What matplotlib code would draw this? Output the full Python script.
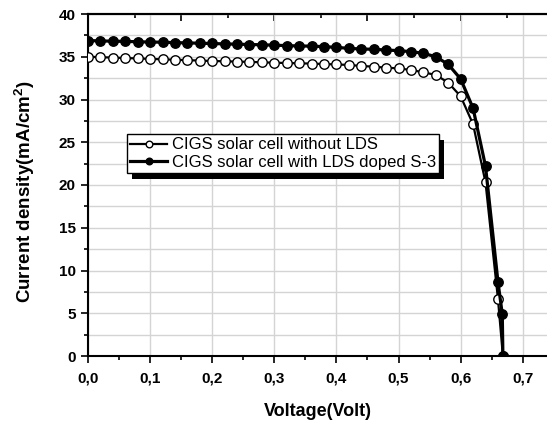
import matplotlib
matplotlib.use("Agg")
import matplotlib.pyplot as plt
from matplotlib.ticker import MultipleLocator, FuncFormatter, FixedLocator
from matplotlib.patches import Rectangle
from matplotlib.transforms import IdentityTransform

plt.rcParams['font.family'] = ['Liberation Sans', 'DejaVu Sans']
plt.rcParams['mathtext.fontset'] = 'custom'
plt.rcParams['mathtext.rm'] = 'Liberation Sans:bold'
plt.rcParams['mathtext.bf'] = 'Liberation Sans:bold'
plt.rcParams['mathtext.default'] = 'rm'

voltage = [0.00, 0.02, 0.04, 0.06, 0.08, 0.10, 0.12, 0.14, 0.16, 0.18,
           0.20, 0.22, 0.24, 0.26, 0.28, 0.30, 0.32, 0.34, 0.36, 0.38,
           0.40, 0.42, 0.44, 0.46, 0.48, 0.50, 0.52, 0.54, 0.56, 0.58,
           0.60, 0.62, 0.64, 0.66, 0.668]
j_without = [35.0, 34.95, 34.9, 34.85, 34.8, 34.75, 34.7, 34.65, 34.6, 34.55,
             34.5, 34.47, 34.43, 34.4, 34.35, 34.3, 34.27, 34.23, 34.2, 34.15,
             34.1, 34.04, 33.92, 33.84, 33.72, 33.64, 33.45, 33.18, 32.87, 31.97,
             30.37, 27.1, 20.3, 6.7, 0.0]

voltage_lds = [0.00, 0.02, 0.04, 0.06, 0.08, 0.10, 0.12, 0.14, 0.16, 0.18,
               0.20, 0.22, 0.24, 0.26, 0.28, 0.30, 0.32, 0.34, 0.36, 0.38,
               0.40, 0.42, 0.44, 0.46, 0.48, 0.50, 0.52, 0.54, 0.56, 0.58,
               0.60, 0.62, 0.64, 0.66, 0.667, 0.668]
j_with = [36.9, 36.85, 36.82, 36.8, 36.75, 36.72, 36.7, 36.65, 36.62, 36.58,
          36.55, 36.5, 36.47, 36.43, 36.4, 36.35, 36.3, 36.26, 36.24, 36.18,
          36.1, 35.98, 35.91, 35.87, 35.79, 35.71, 35.6, 35.4, 35.0, 34.11,
          32.4, 28.97, 22.2, 8.7, 4.9, 0.0]

labels = ["CIGS solar cell without LDS", "CIGS solar cell with LDS doped S-3"]

fig = plt.figure(figsize=(5.47, 4.21), dpi=100)
ax = fig.add_axes([88/547, 1-356/421, 1-88/547, (356-14)/421])

ax.plot(voltage, j_without, '-o', color='black', lw=1.6, ms=6.8,
        mfc='white', mec='black', mew=1.0, label=labels[0], zorder=3)
ax.plot(voltage_lds, j_with, '-o', color='black', lw=2.3, ms=6.8,
        mfc='black', mec='black', mew=1.0, label=labels[1], zorder=4)

ax.set_xlim(0, 0.739)
ax.set_ylim(0, 40)
ax.xaxis.set_major_locator(MultipleLocator(0.1))
ax.xaxis.set_minor_locator(MultipleLocator(0.05))
ax.yaxis.set_major_locator(MultipleLocator(5))
ax.yaxis.set_minor_locator(MultipleLocator(2.5))
ax.xaxis.set_major_formatter(FuncFormatter(lambda v, p: f"{v:.1f}".replace('.', ',')))
ax.yaxis.set_major_formatter(FuncFormatter(lambda v, p: f"{v:.0f}"))

ax.grid(True, which='major', axis='x', color='#d4d4d4', lw=1.0, zorder=0)
ax.grid(True, which='both', axis='y', color='#d4d4d4', lw=1.0, zorder=0)
ax.set_axisbelow(True)

for s in ['left', 'bottom', 'top']:
    ax.spines[s].set_linewidth(1.5)
ax.spines['right'].set_visible(False)

ax.tick_params(axis='both', which='major', direction='out', length=5, width=1.2,
               labelsize=11, pad=4)
ax.tick_params(axis='x', which='major', pad=6)
ax.tick_params(axis='both', which='minor', direction='out', length=3, width=1.2)
ax.tick_params(right=False, top=False)
for t in ax.get_xticklabels() + ax.get_yticklabels():
    t.set_fontweight('bold')

sec = ax.secondary_xaxis('top')
sec.xaxis.set_major_locator(FixedLocator([0, 0.15, 0.3, 0.45, 0.6]))
sec.xaxis.set_minor_locator(FixedLocator([0.075, 0.225, 0.375, 0.525, 0.675]))
sec.tick_params(which='major', direction='in', length=5, width=1.2, labeltop=False)
sec.tick_params(which='minor', direction='in', length=3, width=1.2)
sec.spines['top'].set_linewidth(1.5)

ax.set_xlabel("Voltage(Volt)", fontsize=13, fontweight='bold', labelpad=13)
ax.set_ylabel(r"Current density(mA/cm$^{2}$)", fontsize=13.5, fontweight='bold')
ax.yaxis.set_label_coords(-0.111, 0.48)

leg = ax.legend(loc='upper left', bbox_to_anchor=(0.085, 0.649), fontsize=12,
                frameon=True, fancybox=False, edgecolor='black', framealpha=1,
                handlelength=2.2, handletextpad=0.3, borderpad=0.2,
                labelspacing=0.15, markerscale=0.7, borderaxespad=0)
leg.get_frame().set_linewidth(1.0)
leg.set_zorder(10)

fig.canvas.draw()
bb = leg.get_window_extent()
shadow = Rectangle((bb.x0 + 5, bb.y0 - 6), bb.width, bb.height,
                   transform=IdentityTransform(), facecolor='black',
                   edgecolor='none', zorder=9, clip_on=False)
ax.add_artist(shadow)

fig.savefig("out.png", dpi=100)
